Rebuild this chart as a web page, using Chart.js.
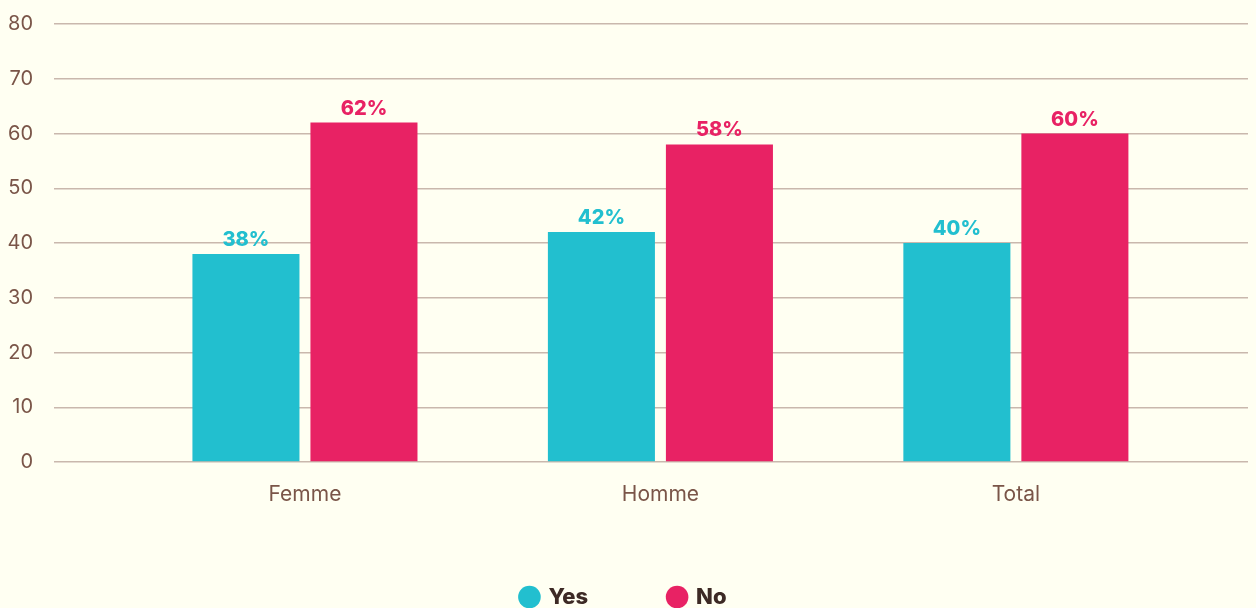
<!DOCTYPE html>
<html>
<head>
<meta charset="utf-8">
<script src="https://cdn.jsdelivr.net/npm/chart.js@4/dist/chart.umd.min.js"></script>
<style>
  html, body { margin: 0; padding: 0; background: #fffff2; }
  #wrap { width: 1256px; height: 608px; }
</style>
</head>
<body>
<div id="wrap"><canvas id="chart"></canvas></div>
<script>
// données
var categories = ['Femme', 'Homme', 'Total'];
var yesValues = [38, 42, 40];
var noValues = [62, 58, 60];
var yTicks = [0, 10, 20, 30, 40, 50, 60, 70, 80];

// points {x: index de catégorie, y: valeur}
function toPoints(values) {
	return values.map(function(v, i) { return { x: i, y: v }; });
}

// étiquettes au-dessus des barres
var barLabels = {
	id: 'barLabels',
	afterDatasetsDraw: function(chart) {
		var ctx = chart.ctx;
		ctx.save();
		ctx.font = '800 20px Inter, sans-serif';
		ctx.textAlign = 'center';
		ctx.textBaseline = 'alphabetic';
		chart.data.datasets.forEach(function(ds, i) {
			var meta = chart.getDatasetMeta(i);
			ctx.fillStyle = ds.backgroundColor;
			meta.data.forEach(function(bar, j) {
				ctx.fillText(ds.data[j].y + '%', bar.x, bar.y - 8);
			});
		});
		ctx.restore();
	}
};

var ctx = document.getElementById('chart').getContext('2d');
new Chart(ctx, {
	type: 'bar',
	data: {
		datasets: [{
			label: 'Yes',
			data: toPoints(yesValues),
			backgroundColor: '#22bfcf',
			categoryPercentage: 0.664,
			barPercentage: 0.907
		}, {
			label: 'No',
			data: toPoints(noValues),
			backgroundColor: '#e82264',
			categoryPercentage: 0.664,
			barPercentage: 0.907
		}]
	},
	options: {
		responsive: true,
		maintainAspectRatio: false,
		animation: false,
		layout: { padding: { top: 24, right: 8, left: 0, bottom: -10 } },
		plugins: {
			legend: {
				position: 'bottom',
				labels: {
					usePointStyle: true,
					pointStyle: 'circle',
					boxWidth: 16,
					boxHeight: 16,
					padding: 81,
					color: '#3d2a25',
					font: { family: 'Inter, sans-serif', size: 22, weight: '800' }
				}
			},
			tooltip: { enabled: false }
		},
		scales: {
			x: {
				type: 'linear',
				offset: false,
				min: -0.706,
				max: 2.653,
				afterBuildTicks: function(axis) {
					axis.ticks = categories.map(function(c, i) { return { value: i }; });
				},
				afterFit: function(axis) { axis.height = 43; },
				grid: { display: false },
				border: { display: false },
				ticks: {
					color: '#7a5548',
					padding: 12,
					font: { family: 'Inter, sans-serif', size: 21 },
					callback: function(value) { return categories[value] || ''; }
				}
			},
			y: {
				min: 0,
				max: 80,
				afterBuildTicks: function(axis) {
					axis.ticks = yTicks.map(function(v) { return { value: v }; });
				},
				afterFit: function(axis) {
					axis.width = 54;
					axis.paddingTop = 0;
				},
				grid: { color: '#c9b8ad', lineWidth: 1.5, drawTicks: false },
				border: { display: false },
				ticks: {
					color: '#7a5548',
					padding: 21,
					font: { family: 'Inter, sans-serif', size: 20 }
				}
			}
		}
	},
	plugins: [barLabels]
});
</script>
</body>
</html>
